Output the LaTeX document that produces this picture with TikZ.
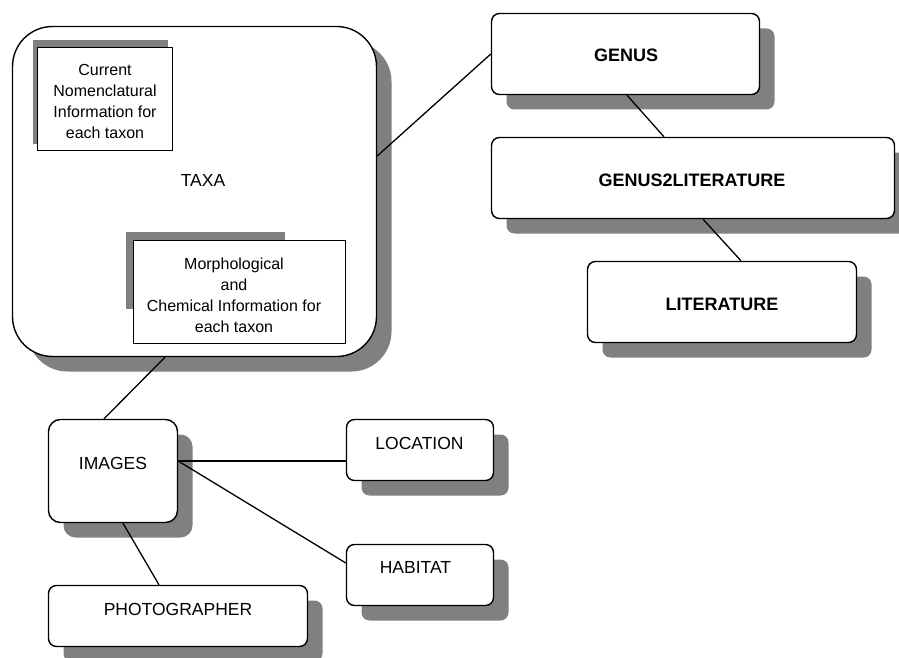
\documentclass[tikz,border=0pt]{standalone}
\usepackage{fontspec}
\setmainfont{Liberation Sans}
\usetikzlibrary{shadows}
\definecolor{shadowgray}{HTML}{808080}
\tikzset{
  tbl/.style={draw, line width=1.4pt, fill=white, inner sep=0pt,
    rounded corners=8pt,
    drop shadow={shadow xshift=15pt, shadow yshift=-15pt, fill=shadowgray, opacity=1}},
  note/.style={draw, line width=1.4pt, fill=white, inner sep=0pt},
  txt/.style={inner sep=0pt, font=\fontsize{17.5}{21}\selectfont},
  btxt/.style={inner sep=0pt, font=\fontsize{18}{21}\selectfont\bfseries},
  small/.style={inner sep=0pt, align=center, font=\fontsize{16}{21}\selectfont},
  link/.style={line width=1.3pt},
}
\begin{document}
\begin{tikzpicture}[x=1pt, y=-1pt]
\useasboundingbox (0,0) rectangle (899,658);

% taxa table with its two inner notes
\node[tbl, rounded corners=40pt, minimum width=364pt, minimum height=330pt] (taxa) at (194.5,191.5) {};
\node[txt] (taxaL) at (203,180) {TAXA};
\node[note, minimum width=135pt, minimum height=103pt,
  drop shadow={shadow xshift=-5pt, shadow yshift=7pt, fill=shadowgray, opacity=1}] (cur) at (105,99) {};
\node[small] (curL) at (105,101) {Current\\Nomenclatural\\Information for\\each taxon};
\fill[shadowgray] (126,232) rectangle (285,309);
\node[note, minimum width=212pt, minimum height=103pt] (morph) at (239.5,292) {};
\node[small] (morphL) at (234,295) {Morphological\\and\\Chemical Information for\\each taxon};

% genus / literature chain
\node[tbl, minimum width=268pt, minimum height=81pt] (genus) at (625.5,54) {};
\node[btxt] (genusL) at (626,55) {GENUS};
\node[tbl, minimum width=403pt, minimum height=81pt] (g2l) at (693,178) {};
\node[btxt] (g2lL) at (692,180) {GENUS2LITERATURE};
\node[tbl, minimum width=269pt, minimum height=81pt] (lit) at (722,302) {};
\node[btxt] (litL) at (722,304) {LITERATURE};

% images and related tables
\node[tbl, rounded corners=12pt, minimum width=129pt, minimum height=103pt] (img) at (113,471) {};
\node[txt] (imgL) at (113,463) {IMAGES};
\node[tbl, minimum width=147pt, minimum height=61pt] (loc) at (420,450) {};
\node[txt] (locL) at (419.5,443) {LOCATION};
\node[tbl, minimum width=147pt, minimum height=61pt] (hab) at (420,575) {};
\node[txt] (habL) at (415.5,567) {HABITAT};
\node[tbl, minimum width=259pt, minimum height=61pt] (pho) at (178,616) {};
\node[txt] (phoL) at (178,609) {PHOTOGRAPHER};

% connectors
\draw[link] ([yshift=35.5pt]taxa.east) -- (genus.west);
\draw[link] ([xshift=1.5pt]genus.south) -- ([xshift=-29pt]g2l.north);
\draw[link] ([xshift=10pt]g2l.south) -- ([xshift=19pt]lit.north);
\draw[link] ([xshift=-29.5pt]taxa.south) -- ([xshift=-9pt]img.north);
\draw[link] ([yshift=10pt]img.east) -- ([yshift=-11pt]loc.west);
\draw[link] ([yshift=10pt]img.east) -- ([yshift=12pt]hab.west);
\draw[link] ([xshift=10pt]img.south) -- ([xshift=-19pt]pho.north);
\end{tikzpicture}
\end{document}
